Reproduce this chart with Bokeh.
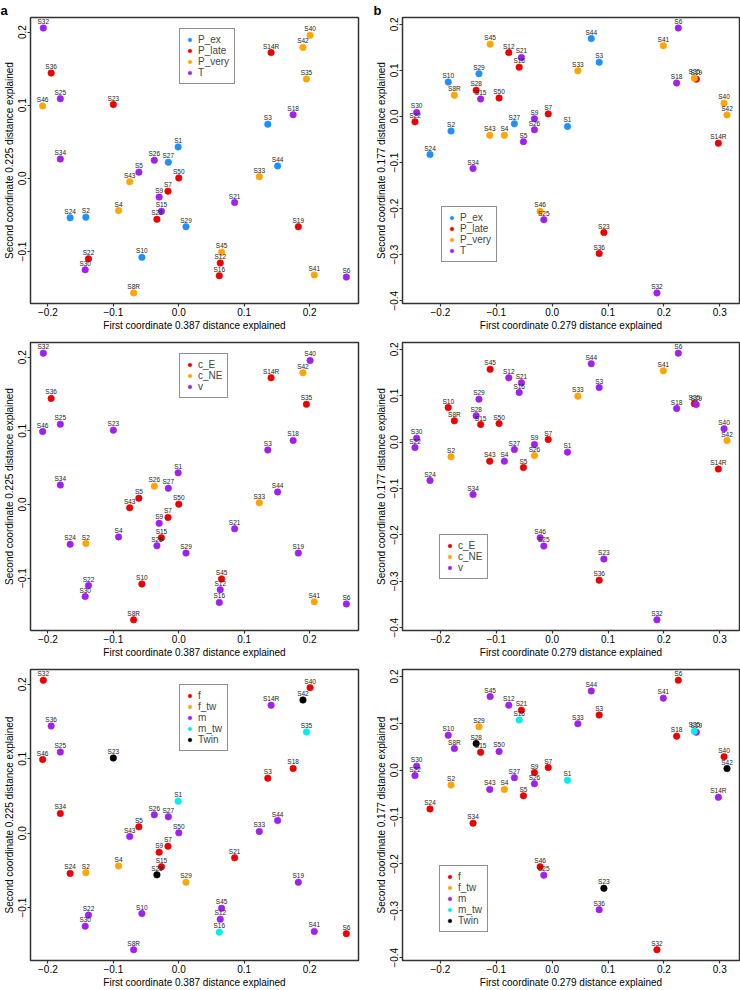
from bokeh.plotting import figure
from bokeh.models import Range1d, FixedTicker, Legend, LegendItem, Title, ColumnDataSource
from bokeh.layouts import column, row
from bokeh.embed import file_html
from bokeh.resources import INLINE
from bokeh.core.properties import value

samples = ["S1", "S2", "S3", "S4", "S5", "S6", "S7", "S8R", "S9", "S10",
           "S12", "S14R", "S15", "S16", "S18", "S19", "S21", "S22", "S23", "S24",
           "S25", "S26", "S27", "S28", "S29", "S30", "S32", "S33", "S34", "S35",
           "S36", "S40", "S41", "S42", "S43", "S44", "S45", "S46", "S50"]

# left column ordination (0.387 / 0.225)
pc1_left = [-0.001, -0.142, 0.136, -0.092, -0.061, 0.256, -0.0165, -0.069, -0.030, -0.0564,
            0.0633, 0.141, -0.0265, 0.0619, 0.1747, 0.1826, 0.0853, -0.138, -0.100, -0.166,
            -0.181, -0.0374, -0.016, -0.0334, 0.011, -0.143, -0.207, 0.123, -0.181, 0.195,
            -0.195, 0.2006, 0.207, 0.1897, -0.075, 0.151, 0.0654, -0.208, 0.000]
pc2_left = [0.043, -0.053, 0.074, -0.044, 0.0085, -0.135, -0.0175, -0.1566, -0.0256, -0.108,
            -0.1157, 0.172, -0.045, -0.133, 0.087, -0.066, -0.033, -0.110, 0.101, -0.054,
            0.109, 0.0247, 0.022, -0.056, -0.066, -0.125, 0.2055, 0.0023, 0.0265, 0.136,
            0.144, 0.1956, -0.132, 0.179, -0.0045, 0.017, -0.101, 0.099, 0.0005]

# right column ordination (0.279 / 0.177)
pc1_right = [0.0275, -0.181, 0.0842, -0.0855, -0.0514, 0.2258, -0.007, -0.175, -0.0317, -0.186,
             -0.0776, 0.2975, -0.128, -0.059, 0.2228, 0.258, -0.055, -0.2455, 0.0926, -0.2186,
             -0.0149, -0.0317, -0.0676, -0.136, -0.131, -0.2425, 0.1876, 0.046, -0.1416, 0.2545,
             0.0842, 0.3077, 0.199, 0.313, -0.1117, 0.070, -0.111, -0.0215, -0.095]
pc2_right = [-0.0216, -0.0317, 0.1177, -0.041, -0.0547, 0.1918, 0.0056, 0.046, -0.005, 0.0746,
             0.1386, -0.058, 0.038, 0.107, 0.0725, 0.081, 0.128, -0.0116, -0.252, -0.0827,
             -0.224, -0.029, -0.016, 0.0567, 0.0927, 0.0086, -0.383, 0.099, -0.113, 0.083,
             -0.2975, 0.0287, 0.1537, 0.0034, -0.041, 0.169, 0.157, -0.206, 0.040]

group_P = ["P_ex", "P_ex", "P_ex", "P_very", "T", "T", "P_late", "P_very", "T", "P_ex",
           "P_late", "P_late", "T", "P_late", "T", "P_late", "T", "P_late", "P_late", "P_ex",
           "T", "T", "P_ex", "P_late", "P_ex", "T", "T", "P_very", "T", "P_very",
           "P_late", "P_very", "P_very", "P_very", "P_very", "P_ex", "P_very", "P_very", "P_late"]
group_C = ["v", "c_NE", "v", "v", "c_E", "v", "c_E", "c_E", "v", "c_E",
           "v", "c_E", "c_E", "v", "v", "v", "v", "v", "v", "v",
           "v", "c_NE", "v", "v", "v", "v", "v", "c_NE", "v", "c_E",
           "c_E", "v", "c_NE", "c_NE", "c_E", "v", "c_E", "v", "c_E"]
group_S = ["m_tw", "f_tw", "f", "f_tw", "f", "f", "f", "m", "f", "m",
           "m", "m", "f", "m_tw", "f", "m", "f", "m", "Twin", "f",
           "m", "m", "m", "Twin", "f_tw", "m", "f", "m", "f", "m_tw",
           "m", "f", "m", "Twin", "m", "m", "m", "f", "m"]

levels_P = ["P_ex", "P_late", "P_very", "T"]
colors_P = ["#1E90FF", "#EE0000", "#FFA500", "#A020F0"]
levels_C = ["c_E", "c_NE", "v"]
colors_C = ["#EE0000", "#FFA500", "#A020F0"]
levels_S = ["f", "f_tw", "m", "m_tw", "Twin"]
colors_S = ["#EE0000", "#FFA500", "#A020F0", "#00EEEE", "#000000"]

xticks_left = [-0.2, -0.1, 0.0, 0.1, 0.2]
yticks_left = [-0.1, 0.0, 0.1, 0.2]
xticks_right = [-0.2, -0.1, 0.0, 0.1, 0.2, 0.3]
yticks_right = [-0.4, -0.3, -0.2, -0.1, 0.0, 0.1, 0.2]

xlab_left = "First coordinate 0.387 distance explained"
ylab_left = "Second coordinate 0.225 distance explained"
xlab_right = "First coordinate 0.279 distance explained"
ylab_right = "Second coordinate 0.177 distance explained"

FONT = "Liberation Sans"


def tick_text(t):
    s = "%.1f" % abs(t)
    return ("\u2212" + s) if t < 0 else s


def r_range(vals):
    lo, hi = min(vals), max(vals)
    d = (hi - lo) * 0.04
    return Range1d(lo - d, hi + d)


def make_panel(xs, ys, groups, levels, colors, xticks, yticks, xlab, ylab,
               width, height, mleft, mright, mtop, mbottom, legend_loc,
               letter=None, letter_offset=0):
    xr = r_range(xs)
    yr = r_range(ys)
    p = figure(width=width, height=height, x_range=xr, y_range=yr,
               output_backend="svg", toolbar_location=None,
               min_border_left=mleft, min_border_right=mright,
               min_border_top=mtop, min_border_bottom=mbottom)
    p.grid.visible = False
    p.outline_line_color = "#333333"
    p.outline_line_width = 1.5
    p.background_fill_color = "white"
    p.border_fill_color = "white"

    p.xaxis.ticker = FixedTicker(ticks=xticks)
    p.yaxis.ticker = FixedTicker(ticks=yticks)
    p.xaxis.major_label_overrides = {t: tick_text(t) for t in xticks}
    p.yaxis.major_label_overrides = {t: tick_text(t) for t in yticks}
    p.yaxis.major_label_orientation = "vertical"
    for ax in (p.xaxis, p.yaxis):
        ax.axis_line_color = None
        ax.minor_tick_line_color = None
        ax.major_tick_in = 0
        ax.major_tick_out = 3
        ax.major_tick_line_color = "#333333"
        ax.major_tick_line_width = 1.2
        ax.major_label_standoff = 1
        ax.axis_label_standoff = 1
        ax.major_label_text_font = FONT
        ax.major_label_text_font_size = "10px"
        ax.major_label_text_color = "black"
        ax.axis_label_text_font = FONT
        ax.axis_label_text_font_size = "10px"
        ax.axis_label_text_font_style = "normal"
        ax.axis_label_text_color = "black"
    p.xaxis.axis_label = xlab
    p.yaxis.axis_label = ylab

    items = []
    for lev, col in zip(levels, colors):
        idx = [i for i, g in enumerate(groups) if g == lev]
        src = ColumnDataSource(dict(x=[xs[i] for i in idx], y=[ys[i] for i in idx]))
        r = p.scatter("x", "y", source=src, marker="circle", size=6.5,
                      fill_color=col, line_color=col, line_width=0.6)
        items.append(LegendItem(label=lev, renderers=[r]))

    p.text(x=xs, y=ys, text=samples, text_align="center", text_baseline="bottom",
           y_offset=-3, text_font_size="6.5px", text_color="#222222",
           text_font=value(FONT))

    legend = Legend(items=items, location=legend_loc,
                    border_line_color="#222222", border_line_width=1.3,
                    background_fill_color="white", background_fill_alpha=1.0,
                    label_text_font=FONT, label_text_font_size="10px",
                    label_height=11, glyph_height=9, glyph_width=9,
                    label_standoff=4, spacing=0, padding=5, margin=0)
    p.add_layout(legend)

    if letter:
        p.add_layout(Title(text=letter, align="left", offset=letter_offset, standoff=0,
                           text_font=FONT, text_font_style="bold",
                           text_font_size="13px", text_color="black"), "above")
    return p


ROW_H = [334, 326, 330]
ROW_TOP = [14, 8, 9]
ROW_BOT = [31, 28, 30]
LW, RW = 360, 380
legends_left = [(149, 219), (149, 232), (149, 209)]
legends_right = [(39, 41), (37, 51), (37, 28)]

panels = []
schemes = [(group_P, levels_P, colors_P), (group_C, levels_C, colors_C), (group_S, levels_S, colors_S)]
for k, (g, lv, cl) in enumerate(schemes):
    pl = make_panel(pc1_left, pc2_left, g, lv, cl, xticks_left, yticks_left,
                    xlab_left, ylab_left, LW, ROW_H[k], 29, 2, ROW_TOP[k], ROW_BOT[k],
                    legends_left[k], "a" if k == 0 else None, -30)
    pr = make_panel(pc1_right, pc2_right, g, lv, cl, xticks_right, yticks_right,
                    xlab_right, ylab_right, RW, ROW_H[k], 42, 1, ROW_TOP[k], ROW_BOT[k],
                    legends_right[k], "b" if k == 0 else None, -29)
    panels.append(row(pl, pr))

layout = column(*panels)
open("out.html", "w").write(file_html(layout, INLINE))
